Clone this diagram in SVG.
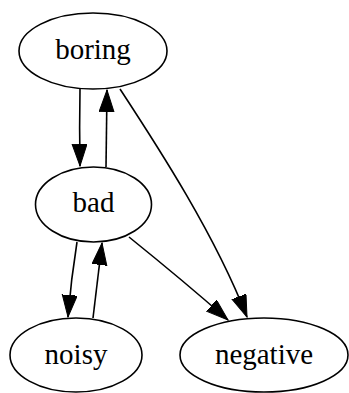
<svg xmlns="http://www.w3.org/2000/svg" width="349" height="393" viewBox="0 0 349 393">
<defs>
<style>
.node ellipse{fill:none;stroke:#000;stroke-width:1.6}
.node text{font-family:"Liberation Serif","Times New Roman",serif;font-size:29px;fill:#000;text-anchor:middle}
.edge{fill:none;stroke:#000;stroke-width:1.6;marker-end:url(#arr)}
</style>
<marker id="arr" markerUnits="userSpaceOnUse" markerWidth="24" markerHeight="16" refX="22" refY="7.5" orient="auto">
<path d="M0,0 L22,7.5 L0,15 z" fill="#000" stroke="#000" stroke-width="1"/>
</marker>
</defs>
<rect width="349" height="393" fill="#fff"/>
<g id="edges">
<path class="edge" d="M80,89 C79.5,115 79.5,140 80,166"/>
<path class="edge" d="M106,167 C106.5,141 106.5,115 107,90"/>
<path class="edge" d="M120,89 C160,150 215,235 247,317"/>
<path class="edge" d="M77,242 C73,267 70,292 68,317"/>
<path class="edge" d="M93,318 C96,293 99,268 102,243"/>
<path class="edge" d="M129,237 C160,262 195,291 228,320"/>
</g>
<g id="boring" class="node"><ellipse cx="93" cy="51" rx="74" ry="38"/><text x="93" y="59">boring</text></g>
<g id="bad" class="node"><ellipse cx="93.5" cy="204.5" rx="58" ry="37.5"/><text x="93.5" y="212">bad</text></g>
<g id="noisy" class="node"><ellipse cx="76" cy="355" rx="66" ry="37"/><text x="76" y="364">noisy</text></g>
<g id="negative" class="node"><ellipse cx="264" cy="355" rx="84" ry="37"/><text x="264" y="364">negative</text></g>
</svg>
